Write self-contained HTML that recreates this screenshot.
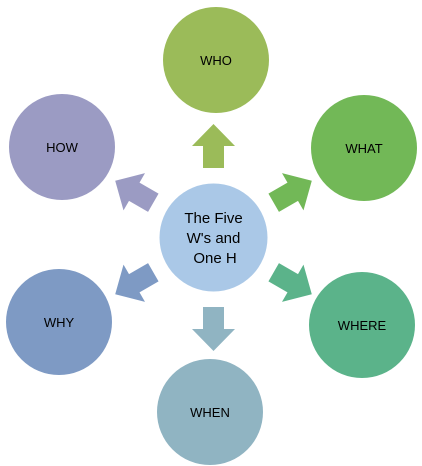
<!DOCTYPE html>
<html><head><style>body{margin:0;background:#fff}</style></head><body>
<svg width="422" height="466" viewBox="0 0 422 466" xmlns="http://www.w3.org/2000/svg" style="display:block">
<defs><path id="ar" d="M-10.5,-69.5 L-10.5,-91.5 L-21.5,-91.5 L0,-113.5 L21.5,-91.5 L10.5,-91.5 L10.5,-69.5 Z"/></defs>
<g font-family="Liberation Sans, sans-serif" font-size="13" text-anchor="middle" fill="#000">
<circle cx="216" cy="60" r="53" fill="#9BBB59"/><text x="216" y="65">WHO</text>
<circle cx="364" cy="148" r="53" fill="#72B857"/><text x="364" y="153">WHAT</text>
<circle cx="362" cy="325" r="53" fill="#5BB38A"/><text x="362" y="330">WHERE</text>
<circle cx="210" cy="412" r="53" fill="#90B4C2"/><text x="210" y="417">WHEN</text>
<circle cx="59" cy="322" r="53" fill="#7E9AC4"/><text x="59" y="327">WHY</text>
<circle cx="62" cy="147" r="53" fill="#9B9BC3"/><text x="62" y="152">HOW</text>
<g transform="translate(213.5,237.5)">
<use href="#ar" fill="#9BBB59"/>
<use href="#ar" fill="#72B857" transform="rotate(60)"/>
<use href="#ar" fill="#5BB38A" transform="rotate(120)"/>
<use href="#ar" fill="#90B4C2" transform="rotate(180)"/>
<use href="#ar" fill="#7E9AC4" transform="rotate(240)"/>
<use href="#ar" fill="#9B9BC3" transform="rotate(300)"/>
</g>
<circle cx="213.5" cy="237.5" r="54" fill="#AAC8E7"/>
<g font-size="15">
<text x="213.5" y="223">The Five</text>
<text x="213.5" y="243">W's and</text>
<text x="215" y="263">One H</text>
</g>
</g>
</svg>
</body></html>
